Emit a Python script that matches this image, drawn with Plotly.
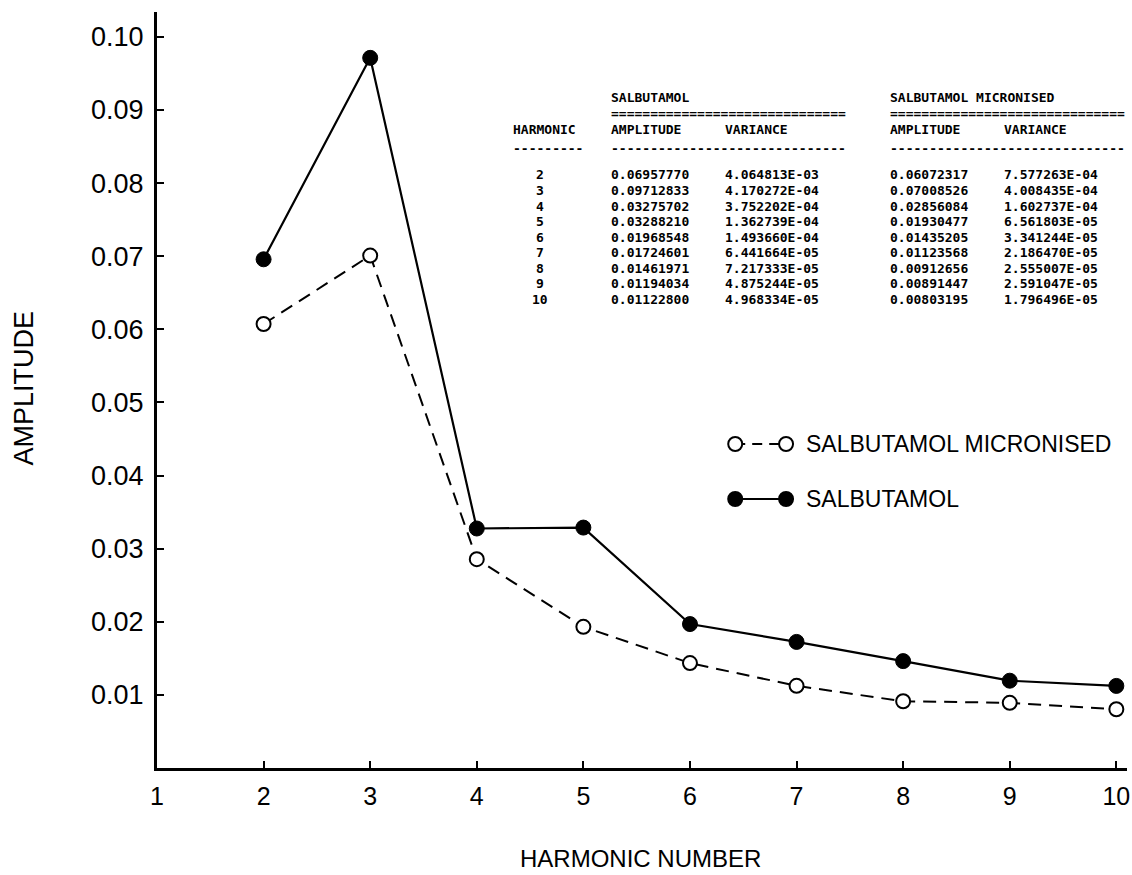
import plotly.graph_objects as go

# ---------------- data ----------------
harmonic = [2, 3, 4, 5, 6, 7, 8, 9, 10]
salb_amp = [0.06957770, 0.09712833, 0.03275702, 0.03288210, 0.01968548,
            0.01724601, 0.01461971, 0.01194034, 0.01122800]
salb_var = ["4.064813E-03", "4.170272E-04", "3.752202E-04", "1.362739E-04",
            "1.493660E-04", "6.441664E-05", "7.217333E-05", "4.875244E-05",
            "4.968334E-05"]
micr_amp = [0.06072317, 0.07008526, 0.02856084, 0.01930477, 0.01435205,
            0.01123568, 0.00912656, 0.00891447, 0.00803195]
micr_var = ["7.577263E-04", "4.008435E-04", "1.602737E-04", "6.561803E-05",
            "3.341244E-05", "2.186470E-05", "2.555007E-05", "2.591047E-05",
            "1.796496E-05"]
x_ticks = [1, 2, 3, 4, 5, 6, 7, 8, 9, 10]
y_ticks = [0.01, 0.02, 0.03, 0.04, 0.05, 0.06, 0.07, 0.08, 0.09, 0.10]
name_micr = "SALBUTAMOL MICRONISED"
name_salb = "SALBUTAMOL"

# ---------------- layout geometry ----------------
W, H = 1132, 875
L, R, T, B = 157, 2, 12, 107
PW, PH = W - L - R, H - T - B


def px(xp):
    return (xp - L) / PW


def py(yp):
    return (H - B - yp) / PH


SANS = "Liberation Sans, Arial, Helvetica, sans-serif"
MONO = "DejaVu Sans Mono, Liberation Mono, monospace"

fig = go.Figure()

fig.add_trace(go.Scatter(
    x=harmonic, y=micr_amp, mode="lines+markers", name=name_micr,
    line=dict(color="black", width=2, dash="13px,8px"),
    marker=dict(symbol="circle", size=14, color="white",
                line=dict(color="black", width=2)),
    showlegend=False))
fig.add_trace(go.Scatter(
    x=harmonic, y=salb_amp, mode="lines+markers", name=name_salb,
    line=dict(color="black", width=2.2),
    marker=dict(symbol="circle", size=15, color="black",
                line=dict(color="black", width=1)),
    showlegend=False))

annotations = []
shapes = []

# ---------------- table ----------------
tfont = dict(family=MONO, size=13, color="black", weight="bold")


def cell(text, xp, yp, anchor="left"):
    annotations.append(dict(text=text, x=px(xp), y=py(yp), xref="paper",
                            yref="paper", xanchor=anchor, yanchor="middle",
                            showarrow=False, font=tfont))


cell("SALBUTAMOL", 610, 97)
cell("SALBUTAMOL MICRONISED", 890, 97)
cell("=" * 30, 610, 114)
cell("=" * 30, 890, 114)
cell("HARMONIC", 512, 130)
cell("AMPLITUDE", 610, 130)
cell("VARIANCE", 725, 130)
cell("AMPLITUDE", 890, 130)
cell("VARIANCE", 1005, 130)
cell("-" * 9, 512, 149)
cell("-" * 30, 610, 149)
cell("-" * 30, 890, 149)
for i, h in enumerate(harmonic):
    yp = 175 + 15.5 * i
    cell(str(h), 541, yp, anchor="center")
    cell(f"{salb_amp[i]:.8f}", 610, yp)
    cell(salb_var[i], 725, yp)
    cell(f"{micr_amp[i]:.8f}", 890, yp)
    cell(micr_var[i], 1005, yp)

# ---------------- legend ----------------
lfont = dict(family=SANS, size=23, color="black")
for yp, name, filled in [(444, name_micr, False), (499, name_salb, True)]:
    shapes.append(dict(type="line", xref="paper", yref="paper",
                       x0=px(737), x1=px(788), y0=py(yp), y1=py(yp),
                       line=dict(color="black", width=2,
                                 dash="solid" if filled else "10px,7px")))
    for xc in (737, 788):
        shapes.append(dict(type="circle", xref="paper", yref="paper",
                           xsizemode="pixel", ysizemode="pixel",
                           xanchor=px(xc), yanchor=py(yp),
                           x0=-7, x1=7, y0=-7, y1=7,
                           fillcolor="black" if filled else "white",
                           line=dict(color="black", width=2)))
    annotations.append(dict(text=name, x=px(806), y=py(yp), xref="paper",
                            yref="paper", xanchor="left", yanchor="middle",
                            showarrow=False, font=lfont))

# ---------------- axis titles ----------------
annotations.append(dict(text="AMPLITUDE", x=px(24), y=py(388), xref="paper",
                        yref="paper", textangle=-90, xanchor="center",
                        yanchor="middle", showarrow=False,
                        font=dict(family=SANS, size=27, color="black")))
annotations.append(dict(text="HARMONIC NUMBER", x=px(642), y=py(858),
                        xref="paper", yref="paper", xanchor="center",
                        yanchor="middle", showarrow=False,
                        font=dict(family=SANS, size=24, color="black")))

fig.update_layout(
    width=W, height=H,
    margin=dict(l=L, r=R, t=T, b=B),
    paper_bgcolor="white", plot_bgcolor="white",
    showlegend=False,
    annotations=annotations, shapes=shapes,
    xaxis=dict(range=[1, 10.1], tickvals=x_ticks, ticktext=[str(v) for v in x_ticks],
               showline=True, linecolor="black", linewidth=3,
               ticks="inside", ticklen=7, tickwidth=2, tickcolor="black",
               showgrid=False, zeroline=False, ticklabelstandoff=4,
               ticklabeloverflow="allow",
               tickfont=dict(family=SANS, size=25, color="black")),
    yaxis=dict(range=[0, 0.1034], tickvals=y_ticks,
               ticktext=[f"{v:.2f}" for v in y_ticks],
               showline=True, linecolor="black", linewidth=3,
               ticks="inside", ticklen=7, tickwidth=2, tickcolor="black",
               showgrid=False, zeroline=False, ticklabelstandoff=5,
               tickfont=dict(family=SANS, size=27, color="black")),
)

fig.write_html("out.html")
